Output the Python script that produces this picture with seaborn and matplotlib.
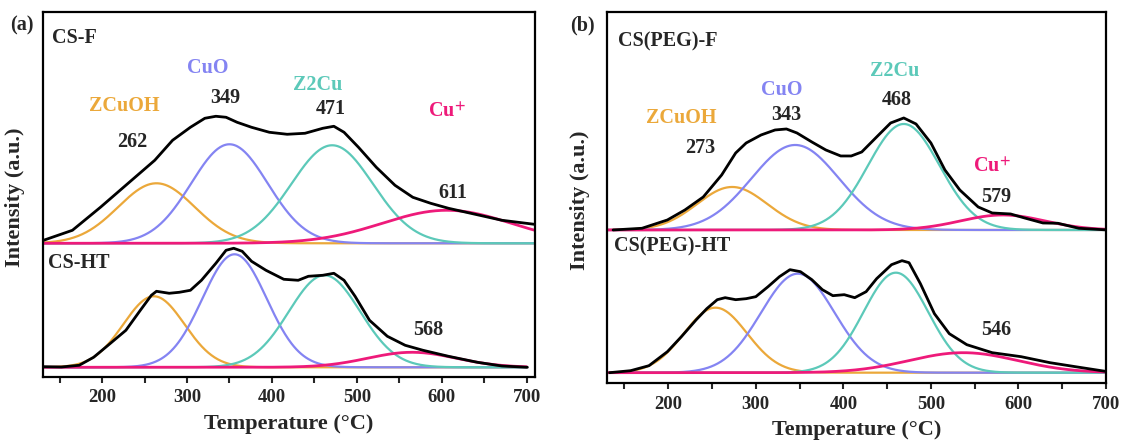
import numpy as np
import matplotlib
matplotlib.use("Agg")
import matplotlib.pyplot as plt
from matplotlib.ticker import MultipleLocator
import seaborn as sns

# measured H2-TPR curves (temperature in C, height above own baseline, a.u.)
csf_t = [131, 165, 198, 232, 262, 283, 304, 321, 334, 346, 359, 376, 397, 418, 439, 460, 473,
         485, 502, 523, 545, 566, 587, 608, 629, 650, 671, 709]
csf_h = [3, 13, 36, 61, 83, 103, 116, 125, 127, 126, 121, 116, 111, 109, 110, 115, 117,
         111, 96, 76, 58, 46, 40, 35, 31, 27, 23, 19]

csht_t = [131, 152, 173, 190, 207, 228, 245, 258, 264, 279, 291, 304, 317, 334, 346, 355, 365,
          376, 393, 414, 431, 443, 460, 473, 485, 498, 515, 536, 557, 578, 608, 642, 671, 701]
csht_h = [0.6, 0.3, 2, 10, 22, 37, 57, 72, 76, 74, 75, 77, 87, 104, 117, 119, 116,
          106, 97, 88, 87, 91, 92, 94, 87, 71, 47, 31, 22, 17, 11, 5, 1.3, 0]

pegf_t = [137, 170, 199, 219, 240, 261, 277, 289, 306, 322, 335, 347, 364, 380, 397, 409, 421,
          438, 454, 469, 483, 500, 516, 533, 554, 570, 591, 607, 628, 645, 669, 702]
pegf_h = [0, 1.7, 10, 20, 33, 55, 77, 87, 95, 100, 101, 97, 88, 80, 74, 74, 78,
          93, 107, 112, 106, 87, 60, 40, 23, 17, 16, 12, 7, 6.7, 1.7, 0]

peght_t = [133, 157, 178, 199, 215, 232, 244, 256, 265, 277, 289, 300, 314, 327, 339, 351, 364,
           376, 388, 401, 413, 426, 438, 455, 467, 475, 488, 504, 521, 541, 570, 603, 636, 665, 702]
peght_h = [0, 2, 7, 21, 36, 53, 64, 73, 75, 73, 74, 76, 86, 96, 103, 101, 93,
           83, 77, 78, 75, 81, 94, 108, 112, 110, 89, 59, 39, 28, 20, 16, 10, 6, 1]

# fitted peaks: ZCuOH, CuO, Z2Cu, Cu+  (centre, height, sigma)
csf_c, csf_a, csf_s = [264, 350, 471, 606], [60, 99, 98, 33], [45, 45, 48, 76]
csht_c, csht_a, csht_s = [261, 356, 462, 565], [71, 113, 92, 15], [36, 38, 42, 52]
pegf_c, pegf_a, pegf_s = [273, 345, 469, 582], [43, 85, 106, 15], [40, 50, 41, 48]
peght_c, peght_a, peght_s = [254, 348, 460, 537], [65, 99, 100, 20], [36, 42, 37, 62]

peak_names = ["ZCuOH", "CuO", "Z2Cu", "Cu$^{\\mathbf{+}}$"]
colors = ["#EBA83A", "#8484F2", "#5CC9B9", "#EE1A7A"]

sns.set_style("ticks")
plt.rcParams["font.family"] = ["Liberation Serif", "DejaVu Serif"]
plt.rcParams["font.weight"] = "bold"
plt.rcParams["mathtext.fontset"] = "stix"

fig = plt.figure(figsize=(11.24, 4.43), dpi=100)
ax_a = fig.add_axes([0.038, 0.1497, 0.438, 0.8226])
ax_b = fig.add_axes([0.540, 0.1348, 0.444, 0.8375])


def draw_set(ax, t, h, cen, amp, sig, base, xmax):
    xs = np.linspace(130, xmax, 600)
    for c, a, s, col in zip(cen, amp, sig, colors):
        g = a * np.exp(-(xs - c) ** 2 / (2 * s ** 2)) + base
        sns.lineplot(x=xs, y=g, ax=ax, color=col, linewidth=1.6 if col != colors[3] else 2.0)
    sns.lineplot(x=t, y=np.array(h) + base, ax=ax, color="black", linewidth=2.0)


# (a)
draw_set(ax_a, csf_t, csf_h, csf_c, csf_a, csf_s, 133.4, 710)
draw_set(ax_a, csht_t, csht_h, csht_c, csht_a, csht_s, 9.4, 700)
ax_a.set_xlim(130, 710)
ax_a.set_ylim(0, 364.4)

# (b)
draw_set(ax_b, pegf_t, pegf_h, pegf_c, pegf_a, pegf_s, 153.3, 700)
draw_set(ax_b, peght_t, peght_h, peght_c, peght_a, peght_s, 10.6, 700)
ax_b.set_xlim(130, 700)
ax_b.set_ylim(0, 371)

for ax in (ax_a, ax_b):
    ax.xaxis.set_major_locator(MultipleLocator(100))
    ax.xaxis.set_minor_locator(MultipleLocator(50))
    ax.set_yticks([])
    ax.tick_params(axis="x", which="both", direction="out", length=4, width=1.5,
                   labelsize=13.5, pad=5)
    for sp in ax.spines.values():
        sp.set_visible(True)
        sp.set_linewidth(1.6)
        sp.set_color("black")
    for lab in ax.get_xticklabels():
        lab.set_fontweight("bold")
    ax.set_xlabel("")
    ax.set_ylabel("")

fs = 14.5
# panel (a) annotations
ax_a.text(226, 270.7, peak_names[0], color=colors[0], fontsize=fs, ha="center", va="center")
ax_a.text(325, 308.7, peak_names[1], color=colors[1], fontsize=fs, ha="center", va="center")
ax_a.text(454, 291.7, peak_names[2], color=colors[2], fontsize=fs, ha="center", va="center")
ax_a.text(606, 264.7, peak_names[3], color=colors[3], fontsize=fs, ha="center", va="center")
for x, y, s in [(236, 234.7, "262"), (345, 278.7, "349"), (469, 267.7, "471"),
                (613, 183.7, "611"), (584, 46.7, "568")]:
    ax_a.text(x, y, s, fontsize=fs, ha="center", va="center")
ax_a.text(0.018, 0.929, "CS-F", transform=ax_a.transAxes, fontsize=fs, va="center")
ax_a.text(0.010, 0.312, "CS-HT", transform=ax_a.transAxes, fontsize=fs, va="center")

# panel (b) annotations
ax_b.text(215, 265.3, peak_names[0], color=colors[0], fontsize=fs, ha="center", va="center")
ax_b.text(330, 293.3, peak_names[1], color=colors[1], fontsize=fs, ha="center", va="center")
ax_b.text(459, 312.6, peak_names[2], color=colors[2], fontsize=fs, ha="center", va="center")
ax_b.text(570, 216.3, peak_names[3], color=colors[3], fontsize=fs, ha="center", va="center")
for x, y, s in [(236, 235.3, "273"), (335, 268.3, "343"), (461, 283.3, "468"),
                (574, 186.3, "579"), (574, 53.3, "546")]:
    ax_b.text(x, y, s, fontsize=fs, ha="center", va="center")
ax_b.text(0.023, 0.921, "CS(PEG)-F", transform=ax_b.transAxes, fontsize=fs, va="center")
ax_b.text(0.014, 0.368, "CS(PEG)-HT", transform=ax_b.transAxes, fontsize=fs, va="center")

# panel letters and axis titles
fig.text(0.0196, 0.9436, "(a)", fontsize=fs, ha="center", va="center")
fig.text(0.518, 0.9436, "(b)", fontsize=fs, ha="center", va="center")
fig.text(15 / 1124, 1 - 197 / 443, "Intensity (a.u.)", rotation=90, fontsize=16,
         ha="center", va="center")
fig.text(580 / 1124, 1 - 200 / 443, "Intensity (a.u.)", rotation=90, fontsize=16,
         ha="center", va="center")
fig.text(289 / 1124, 1 - 424 / 443, "Temperature (\u00b0C)", fontsize=16, ha="center", va="center")
fig.text(857 / 1124, 1 - 430 / 443, "Temperature (\u00b0C)", fontsize=16, ha="center", va="center")

fig.savefig("out.png", dpi=100)
